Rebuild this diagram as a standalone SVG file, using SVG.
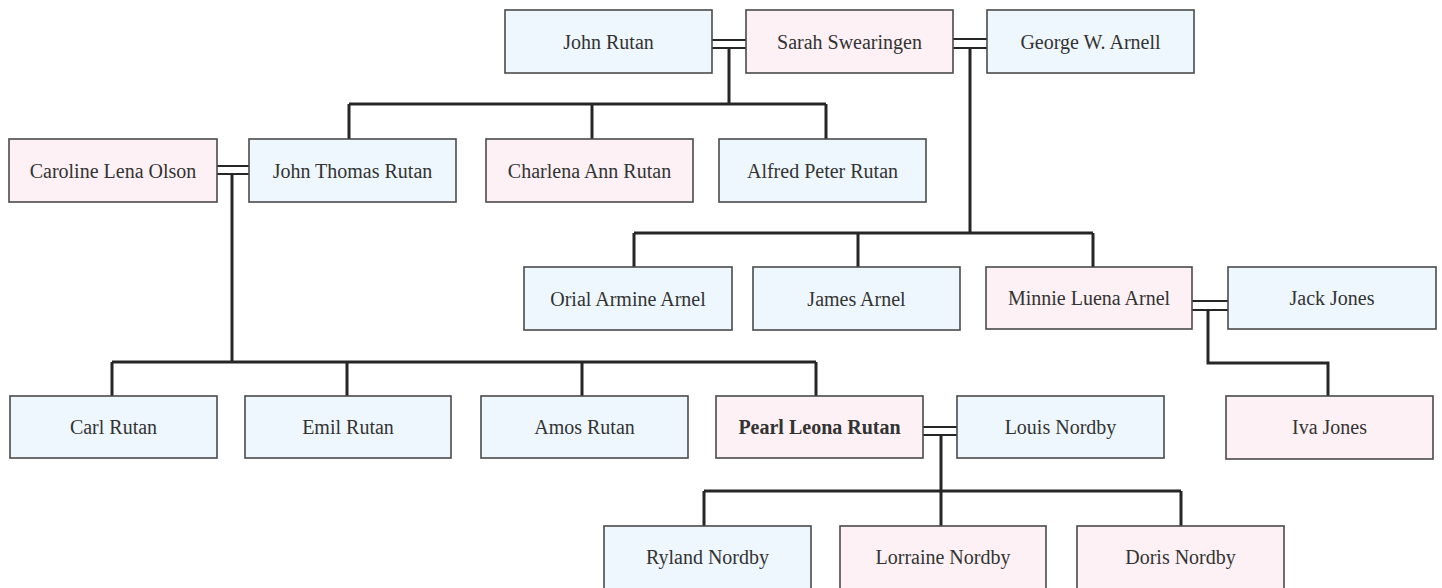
<svg xmlns="http://www.w3.org/2000/svg" width="1442" height="588" viewBox="0 0 1442 588">
<style>
.m{fill:#eef7fd;stroke:#4a4a4a;stroke-width:1.6}
.f{fill:#fdf1f5;stroke:#4a4a4a;stroke-width:1.6}
text{font-family:"Liberation Serif","Times New Roman",serif;font-size:20px;fill:#333;text-anchor:middle}
.b{font-weight:bold}
.c{fill:none;stroke:#262626;stroke-width:3}
.d{fill:none;stroke:#262626;stroke-width:2}
</style>
<rect width="1442" height="588" fill="#fff"/>
<g id="connectors">
<path class="d" d="M712 40H746M712 48H746"/>
<path class="c" d="M729 48V104M349 104H826M349 104V139M592 104V139M826 104V139"/>
<path class="d" d="M953 39H987M953 48H987"/>
<path class="c" d="M970 48V233M634 233H1093M634 233V267M858 233V267M1093 233V267"/>
<path class="d" d="M217 166H249M217 174H249"/>
<path class="c" d="M232 174V362M112 362H816M112 362V396M347 362V396M582 362V396M816 362V396"/>
<path class="d" d="M1192 301H1228M1192 310H1228"/>
<path class="c" d="M1208 310V363H1328V396"/>
<path class="d" d="M923 427H957M923 435H957"/>
<path class="c" d="M941 435V526M704 491H1181M704 491V526M1181 491V526"/>
</g>
<g id="john_rutan"><rect class="m" x="505" y="10" width="207" height="63"/><text x="608.5" y="49">John Rutan</text></g>
<g id="sarah_swearingen"><rect class="f" x="746" y="10" width="207" height="63"/><text x="849.5" y="49">Sarah Swearingen</text></g>
<g id="george_arnell"><rect class="m" x="987" y="10" width="207" height="63"/><text x="1090.5" y="49">George W. Arnell</text></g>
<g id="caroline_olson"><rect class="f" x="9" y="139" width="208" height="63"/><text x="113" y="178">Caroline Lena Olson</text></g>
<g id="john_thomas_rutan"><rect class="m" x="249" y="139" width="207" height="63"/><text x="352.5" y="178">John Thomas Rutan</text></g>
<g id="charlena_rutan"><rect class="f" x="486" y="139" width="207" height="63"/><text x="589.5" y="178">Charlena Ann Rutan</text></g>
<g id="alfred_rutan"><rect class="m" x="719" y="139" width="207" height="63"/><text x="822.5" y="178">Alfred Peter Rutan</text></g>
<g id="orial_arnel"><rect class="m" x="524" y="267" width="208" height="63"/><text x="628" y="306">Orial Armine Arnel</text></g>
<g id="james_arnel"><rect class="m" x="753" y="267" width="207" height="63"/><text x="856.5" y="306">James Arnel</text></g>
<g id="minnie_arnel"><rect class="f" x="986" y="267" width="206" height="62"/><text x="1089" y="305">Minnie Luena Arnel</text></g>
<g id="jack_jones"><rect class="m" x="1228" y="267" width="208" height="62"/><text x="1332" y="305">Jack Jones</text></g>
<g id="carl_rutan"><rect class="m" x="10" y="396" width="207" height="62"/><text x="113.5" y="434">Carl Rutan</text></g>
<g id="emil_rutan"><rect class="m" x="245" y="396" width="206" height="62"/><text x="348" y="434">Emil Rutan</text></g>
<g id="amos_rutan"><rect class="m" x="481" y="396" width="207" height="62"/><text x="584.5" y="434">Amos Rutan</text></g>
<g id="pearl_rutan"><rect class="f" x="716" y="396" width="207" height="62"/><text class="b" x="819.5" y="434">Pearl Leona Rutan</text></g>
<g id="louis_nordby"><rect class="m" x="957" y="396" width="207" height="62"/><text x="1060.5" y="434">Louis Nordby</text></g>
<g id="iva_jones"><rect class="f" x="1226" y="396" width="207" height="63"/><text x="1329.5" y="434">Iva Jones</text></g>
<g id="ryland_nordby"><rect class="m" x="604" y="526" width="207" height="63"/><text x="707.5" y="564">Ryland Nordby</text></g>
<g id="lorraine_nordby"><rect class="f" x="840" y="526" width="206" height="63"/><text x="943" y="564">Lorraine Nordby</text></g>
<g id="doris_nordby"><rect class="f" x="1077" y="526" width="207" height="63"/><text x="1180.5" y="564">Doris Nordby</text></g>
</svg>
